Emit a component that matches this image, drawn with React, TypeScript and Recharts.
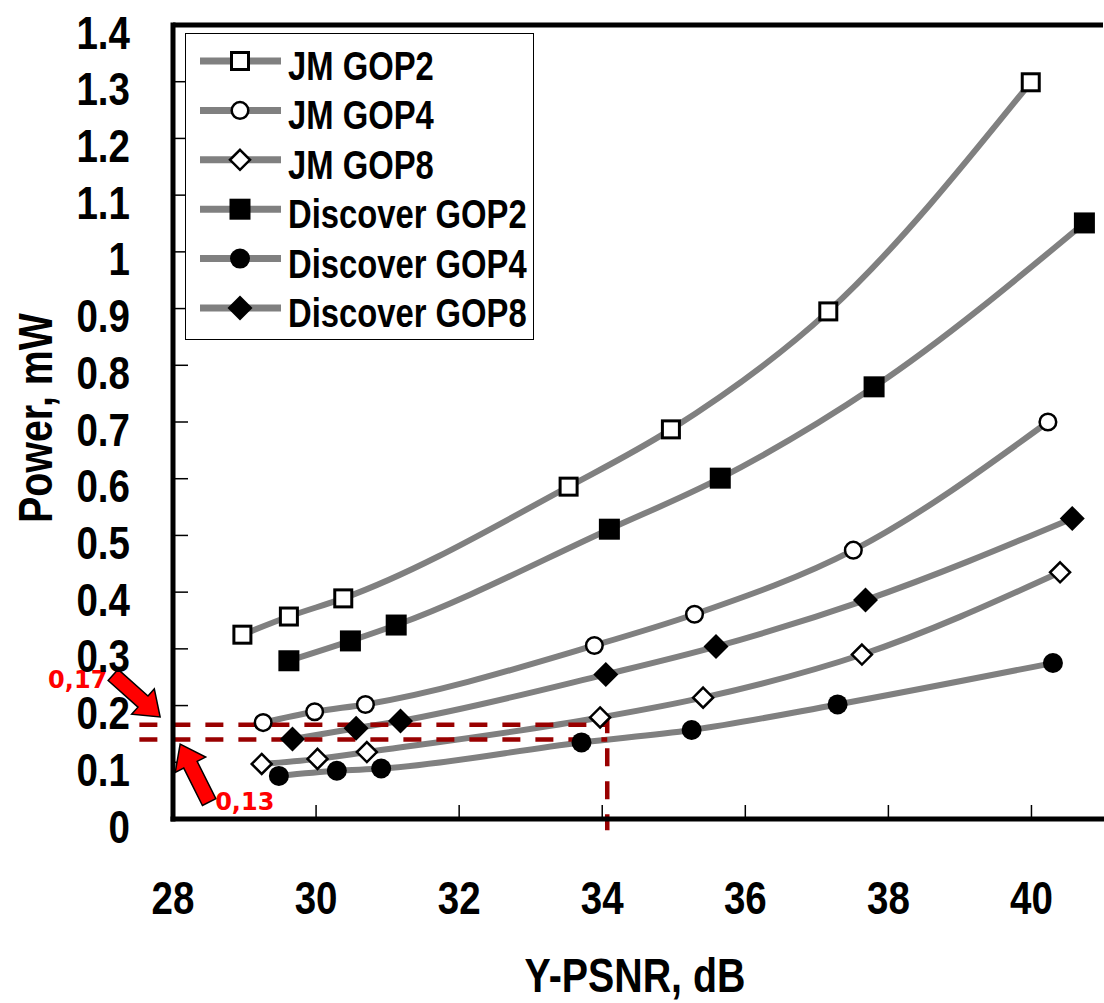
import React from 'react';
import {
  LineChart,
  Line,
  XAxis,
  YAxis,
  ReferenceLine,
  ReferenceDot,
  Legend,
} from 'recharts';

// Y-PSNR (dB) and power (mW), one pair of arrays per curve
const jmGop2Psnr = [28.97, 29.62, 30.38, 33.53, 34.96, 37.16, 39.99];
const jmGop2Power = [0.325, 0.357, 0.389, 0.586, 0.687, 0.895, 1.299];

const jmGop4Psnr = [29.26, 29.98, 30.69, 33.89, 35.29, 37.51, 40.23];
const jmGop4Power = [0.17, 0.189, 0.202, 0.306, 0.361, 0.474, 0.7];

const jmGop8Psnr = [29.24, 30.02, 30.71, 33.97, 35.41, 37.63, 40.4];
const jmGop8Power = [0.097, 0.106, 0.118, 0.179, 0.214, 0.29, 0.435];

const discGop2Psnr = [29.62, 30.48, 31.12, 34.1, 35.65, 37.8, 40.74];
const discGop2Power = [0.279, 0.314, 0.342, 0.511, 0.601, 0.762, 1.051];

const discGop4Psnr = [29.48, 30.29, 30.91, 33.71, 35.25, 37.29, 40.3];
const discGop4Power = [0.076, 0.085, 0.089, 0.135, 0.157, 0.202, 0.275];

const discGop8Psnr = [29.67, 30.56, 31.18, 34.05, 35.59, 37.68, 40.57];
const discGop8Power = [0.141, 0.16, 0.173, 0.255, 0.304, 0.386, 0.53];

const xTicks = [28, 30, 32, 34, 36, 38, 40];
const yTicks = [0, 0.1, 0.2, 0.3, 0.4, 0.5, 0.6, 0.7, 0.8, 0.9, 1, 1.1, 1.2, 1.3, 1.4];

// red dashed guides + arrows
const guideLevels = [0.166, 0.14];
const guidePsnr = 34.07;
const guideStart = 27.53;
const guideLabels = ['0,17', '0,13'];

const toPoints = (xs: number[], ys: number[]) => xs.map((x, i) => ({ x, y: ys[i] }));

type Kind = 'sqOpen' | 'ciOpen' | 'diOpen' | 'sqFill' | 'ciFill' | 'diFill';

const series: { name: string; kind: Kind; data: { x: number; y: number }[] }[] = [
  { name: 'JM GOP2', kind: 'sqOpen', data: toPoints(jmGop2Psnr, jmGop2Power) },
  { name: 'JM GOP4', kind: 'ciOpen', data: toPoints(jmGop4Psnr, jmGop4Power) },
  { name: 'JM GOP8', kind: 'diOpen', data: toPoints(jmGop8Psnr, jmGop8Power) },
  { name: 'Discover GOP2', kind: 'sqFill', data: toPoints(discGop2Psnr, discGop2Power) },
  { name: 'Discover GOP4', kind: 'ciFill', data: toPoints(discGop4Psnr, discGop4Power) },
  { name: 'Discover GOP8', kind: 'diFill', data: toPoints(discGop8Psnr, discGop8Power) },
];

const FONT = "'Liberation Sans', Arial, Helvetica, sans-serif";
const LINE_GREY = '#808080';
const GUIDE_RED = '#990000';

// condensed bold text (Arial Narrow look)
const Narrow = ({ x, y, size, anchor, rotate, children }: any) => (
  <text
    transform={`translate(${x},${y})${rotate ? ` rotate(${rotate})` : ''} scale(0.82,1)`}
    textAnchor={anchor}
    fontFamily={FONT}
    fontWeight="bold"
    fontSize={size}
    fill="#000"
  >
    {children}
  </text>
);

const Marker = ({ kind, cx, cy }: { kind: Kind; cx: number; cy: number }) => {
  switch (kind) {
    case 'sqOpen':
      return <rect x={cx - 8.5} y={cy - 8.5} width={17} height={17} fill="#fff" stroke="#000" strokeWidth={3} />;
    case 'sqFill':
      return <rect x={cx - 10.5} y={cy - 10.5} width={21} height={21} fill="#000" />;
    case 'ciOpen':
      return <circle cx={cx} cy={cy} r={8.3} fill="#fff" stroke="#000" strokeWidth={2.5} />;
    case 'ciFill':
      return <circle cx={cx} cy={cy} r={10} fill="#000" />;
    case 'diOpen':
      return (
        <polygon
          points={`${cx},${cy - 10} ${cx + 10},${cy} ${cx},${cy + 10} ${cx - 10},${cy}`}
          fill="#fff"
          stroke="#000"
          strokeWidth={2.5}
        />
      );
    default:
      return (
        <polygon
          points={`${cx},${cy - 12.5} ${cx + 12.5},${cy} ${cx},${cy + 12.5} ${cx - 12.5},${cy}`}
          fill="#000"
        />
      );
  }
};

const YTick = (props: any) => (
  <Narrow x={props.x} y={props.y + 23.5} size={47} anchor="end">
    {String(props.payload.value)}
  </Narrow>
);

const XTick = (props: any) => (
  <Narrow x={props.x} y={props.y + 109} size={47} anchor="middle">
    {String(props.payload.value)}
  </Narrow>
);

const YTitle = (props: any) => {
  const vb = props.viewBox;
  return (
    <Narrow x={52} y={vb.y + vb.height / 2 - 4} size={48} anchor="middle" rotate={-90}>
      Power, mW
    </Narrow>
  );
};

const XTitle = (props: any) => {
  const vb = props.viewBox;
  return (
    <Narrow x={vb.x + vb.width / 2 - 3} y={vb.y + 173} size={48} anchor="middle">
      Y-PSNR, dB
    </Narrow>
  );
};

// legend keeps the figure's series order (Recharts would sort by name)
const LegendBox = () => (
  <svg width={346} height={304} style={{ display: 'block' }}>
    {series.map((s, i) => {
      const cy = 27 + i * 49.4;
      return (
        <g key={s.name}>
          <line x1={14} x2={95} y1={cy} y2={cy} stroke={LINE_GREY} strokeWidth={7} />
          <Marker kind={s.kind} cx={54} cy={cy} />
          <Narrow x={102} y={cy + 19} size={40} anchor="start">
            {s.name}
          </Narrow>
        </g>
      );
    })}
  </svg>
);

const Arrow = ({ cx, cy, dx, dy, label, tx, ty }: any) => {
  const ang = (Math.atan2(dy, dx) * 180) / Math.PI;
  const len = Math.hypot(dx, dy);
  const pts = [
    [-len, -7.5],
    [-23, -7.5],
    [-23, -17],
    [0, 0],
    [-23, 17],
    [-23, 7.5],
    [-len, 7.5],
  ]
    .map((p) => p.join(','))
    .join(' ');
  return (
    <g>
      <polygon
        points={pts}
        transform={`translate(${cx},${cy}) rotate(${ang})`}
        fill="#ff0000"
        stroke="#000"
        strokeWidth={1.5}
        strokeLinejoin="miter"
      />
      <text
        x={cx + tx}
        y={cy + ty}
        fontFamily="'DejaVu Sans', Verdana, sans-serif"
        fontWeight="bold"
        fontSize={24}
        fill="#ff0000"
      >
        {label}
      </text>
    </g>
  );
};

export default function App() {
  return (
    <div style={{ position: 'absolute', left: 0, top: 0, background: '#fff' }}>
      <LineChart width={1104} height={1003} margin={{ top: 25, right: 1, bottom: 0, left: 0 }}>
        <XAxis
          type="number"
          dataKey="x"
          domain={[28, 41]}
          ticks={xTicks}
          allowDataOverflow
          height={184}
          axisLine={{ stroke: '#000', strokeWidth: 5, strokeLinecap: 'square' }}
          tickLine={{ stroke: '#000', strokeWidth: 1.5 }}
          tickSize={-14}
          tickMargin={0}
          tick={<XTick />}
          label={{ content: <XTitle /> }}
        />
        <YAxis
          type="number"
          dataKey="y"
          domain={[0, 1.4]}
          ticks={yTicks}
          allowDataOverflow
          width={173}
          axisLine={{ stroke: '#000', strokeWidth: 5, strokeLinecap: 'square' }}
          tickLine={{ stroke: '#000', strokeWidth: 1.5 }}
          tickSize={-15}
          tickMargin={58}
          tick={<YTick />}
          label={{ content: <YTitle /> }}
        />
        <ReferenceLine y={1.4} stroke="#000" strokeWidth={5} />

        {series.map((s) => (
          <Line
            key={s.name}
            name={s.name}
            data={s.data}
            dataKey="y"
            type="monotone"
            stroke={LINE_GREY}
            strokeWidth={6}
            isAnimationActive={false}
            activeDot={false}
            dot={(p: any) => <Marker key={`${s.name}-${p.index}`} kind={s.kind} cx={p.cx} cy={p.cy} />}
          />
        ))}

        {guideLevels.map((lv) => (
          <ReferenceLine
            key={`g-${lv}`}
            segment={[
              { x: guideStart, y: lv },
              { x: guidePsnr, y: lv },
            ]}
            stroke={GUIDE_RED}
            strokeWidth={4.5}
            strokeDasharray="18 15"
            ifOverflow="visible"
          />
        ))}
        <ReferenceLine
          segment={[
            { x: guidePsnr, y: 0.183 },
            { x: guidePsnr, y: -0.02 },
          ]}
          stroke={GUIDE_RED}
          strokeWidth={4.5}
          strokeDasharray="18 15"
          ifOverflow="visible"
        />

        <ReferenceDot
          x={27.82}
          y={0.18}
          ifOverflow="visible"
          shape={(p: any) => <Arrow cx={p.cx} cy={p.cy} dx={47} dy={42} label={guideLabels[0]} tx={-112} ty={-29} />}
        />
        <ReferenceDot
          x={28.1}
          y={0.132}
          ifOverflow="visible"
          shape={(p: any) => <Arrow cx={p.cx} cy={p.cy} dx={-29} dy={-58} label={guideLabels[1]} tx={35} ty={66} />}
        />

        <Legend
          layout="vertical"
          align="center"
          verticalAlign="middle"
          content={<LegendBox />}
          wrapperStyle={{
            left: 185,
            top: 33,
            width: 349,
            height: 307,
            border: '1.5px solid #000',
            background: '#fff',
            boxSizing: 'border-box',
          }}
        />
      </LineChart>
    </div>
  );
}
